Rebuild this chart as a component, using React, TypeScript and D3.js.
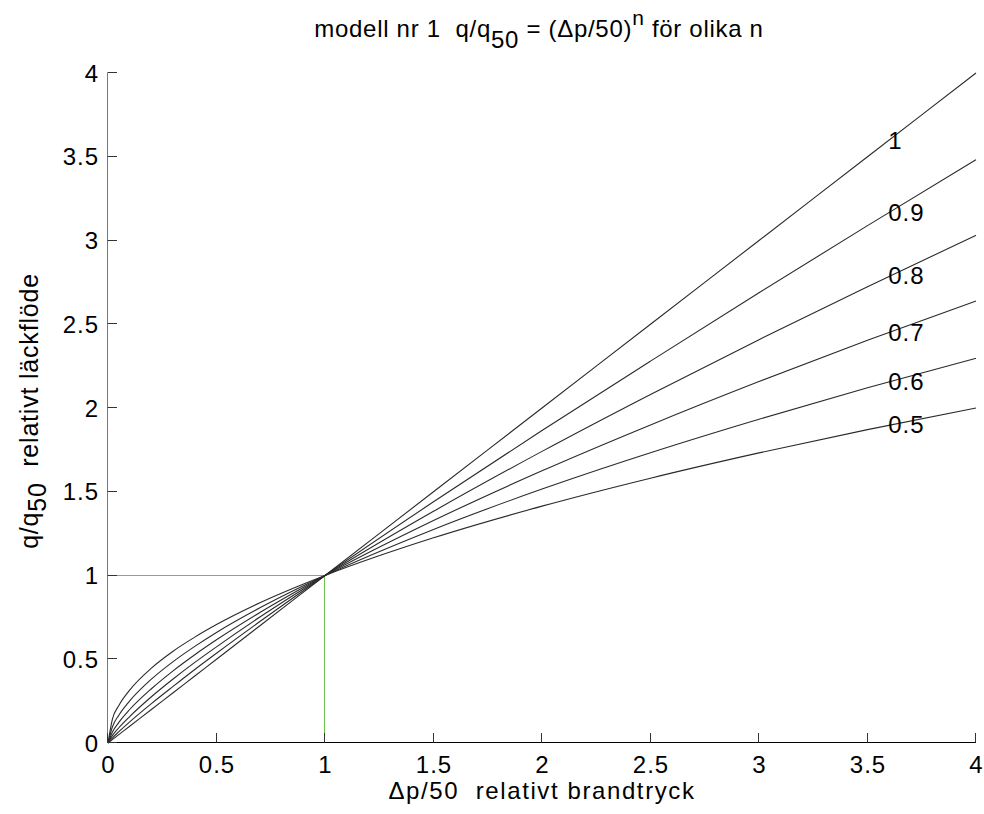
import React from "react";
import * as d3 from "d3";

const W = 984;
const H = 814;

// Sample points along Δp/50 (x) and read-off q/q50 values for each exponent n
const xs = [0, 0.02, 0.05, 0.1, 0.2, 0.3, 0.4, 0.5, 0.7, 1, 1.5, 2, 2.5, 3, 3.5, 4];
const nValues = ["1", "0.9", "0.8", "0.7", "0.6", "0.5"];
const curve10 = [0, 0.02, 0.05, 0.1, 0.2, 0.3, 0.4, 0.5, 0.7, 1, 1.5, 2, 2.5, 3, 3.5, 4];
const curve09 = [0, 0.0296, 0.0675, 0.126, 0.235, 0.338, 0.439, 0.536, 0.725, 1, 1.44, 1.866, 2.28, 2.688, 3.089, 3.482];
const curve08 = [0, 0.0437, 0.091, 0.158, 0.276, 0.382, 0.481, 0.574, 0.752, 1, 1.383, 1.741, 2.081, 2.408, 2.724, 3.031];
const curve07 = [0, 0.0647, 0.123, 0.2, 0.324, 0.431, 0.527, 0.616, 0.779, 1, 1.328, 1.625, 1.899, 2.158, 2.404, 2.639];
const curve06 = [0, 0.0956, 0.166, 0.251, 0.381, 0.486, 0.577, 0.66, 0.807, 1, 1.275, 1.516, 1.733, 1.933, 2.121, 2.297];
const curve05 = [0, 0.141, 0.224, 0.316, 0.447, 0.548, 0.632, 0.707, 0.837, 1, 1.225, 1.414, 1.581, 1.732, 1.871, 2];
const curves = [curve10, curve09, curve08, curve07, curve06, curve05];

// label anchor positions
const labelX = 3.6;
const labelY = [3.6, 3.17, 2.79, 2.45, 2.16, 1.9];

// reference guide (green) lines: horizontal at q/q50 = 1, vertical at Δp/50 = 1
const guideLevel = 1;

const xTicks = [0, 0.5, 1, 1.5, 2, 2.5, 3, 3.5, 4];
const yTicks = [0, 0.5, 1, 1.5, 2, 2.5, 3, 3.5, 4];

const FONT = "'Liberation Sans', Arial, Helvetica, sans-serif";
const FS = 24;

export default function App() {
  const x = d3.scaleLinear().domain([0, 4]).range([108, 976]);
  const y = d3.scaleLinear().domain([0, 4]).range([743, 73]);

  const line = d3
    .line<number>()
    .x((_, i) => x(xs[i]))
    .y((d) => y(d))
    .curve(d3.curveMonotoneX);

  const crispX = (v: number) => Math.round(x(v)) - 0.5;
  const crispY = (v: number) => Math.round(y(v)) - 0.5;

  const fmt = (v: number) => String(v);
  const green = "#6cc24a";

  return (
    <svg
      width={W}
      height={H}
      style={{ position: "absolute", left: 0, top: 0, background: "#fff" }}
      fontFamily={FONT}
    >
      <rect x={0} y={0} width={W} height={H} fill="#fff" />

      {/* guide lines */}
      <line
        x1={x(0)}
        x2={crispX(guideLevel)}
        y1={crispY(guideLevel)}
        y2={crispY(guideLevel)}
        stroke={green}
        strokeWidth={1}
        shapeRendering="crispEdges"
      />
      <line
        x1={crispX(guideLevel)}
        x2={crispX(guideLevel)}
        y1={crispY(guideLevel)}
        y2={y(0)}
        stroke={green}
        strokeWidth={1}
        shapeRendering="crispEdges"
      />

      {/* curves */}
      {curves.map((c, i) => (
        <path key={i} d={line(c) || ""} fill="none" stroke="#2a2a2a" strokeWidth={1.1} />
      ))}

      {/* axes */}
      <line x1={107.5} x2={107.5} y1={y(4)} y2={y(0)} stroke="#777" strokeWidth={1} />
      <line x1={x(0)} x2={x(4)} y1={742.5} y2={742.5} stroke="#000" strokeWidth={1} />

      {xTicks.map((t) => (
        <g key={"x" + t}>
          <line x1={crispX(t)} x2={crispX(t)} y1={742.5} y2={733} stroke="#333" strokeWidth={1} />
          <text x={x(t) + 0.5} y={773} textAnchor="middle" fontSize={FS} letterSpacing={1} fill="#000">
            {fmt(t)}
          </text>
        </g>
      ))}

      {yTicks.map((t) => (
        <g key={"y" + t}>
          <line x1={107.5} x2={117} y1={crispY(t)} y2={crispY(t)} stroke="#333" strokeWidth={1} />
          <text x={99} y={y(t) + 8.5} textAnchor="end" fontSize={FS} letterSpacing={1} fill="#000">
            {fmt(t)}
          </text>
        </g>
      ))}

      {/* curve labels */}
      {nValues.map((n, i) => (
        <text
          key={"l" + n}
          x={x(labelX) - 1}
          y={y(labelY[i]) + 8.5}
          fontSize={FS}
          letterSpacing={1}
          fill="#000"
        >
          {n}
        </text>
      ))}

      {/* title */}
      <text
        x={539}
        y={37}
        textAnchor="middle"
        fontSize={FS}
        letterSpacing={0.7}
        fill="#000"
        style={{ whiteSpace: "pre" }}
      >
        {"modell nr 1  q/q"}
        <tspan dy={11}>50</tspan>
        <tspan dy={-11}>{" = (Δp/50)"}</tspan>
        <tspan dy={-12} fontSize={21}>n</tspan>
        <tspan dy={12}>{" för olika n"}</tspan>
      </text>

      {/* x label */}
      <text
        x={542}
        y={799}
        textAnchor="middle"
        fontSize={FS}
        letterSpacing={1.6}
        fill="#000"
        style={{ whiteSpace: "pre" }}
      >
        {"Δp/50  relativt brandtryck"}
      </text>

      {/* y label */}
      <text
        transform="translate(38,411) rotate(-90)"
        textAnchor="middle"
        fontSize={25}
        letterSpacing={0.8}
        fill="#000"
        style={{ whiteSpace: "pre" }}
      >
        {"q/q"}
        <tspan dy={8}>50</tspan>
        <tspan dy={-8}>{"  relativt läckflöde"}</tspan>
      </text>
    </svg>
  );
}
